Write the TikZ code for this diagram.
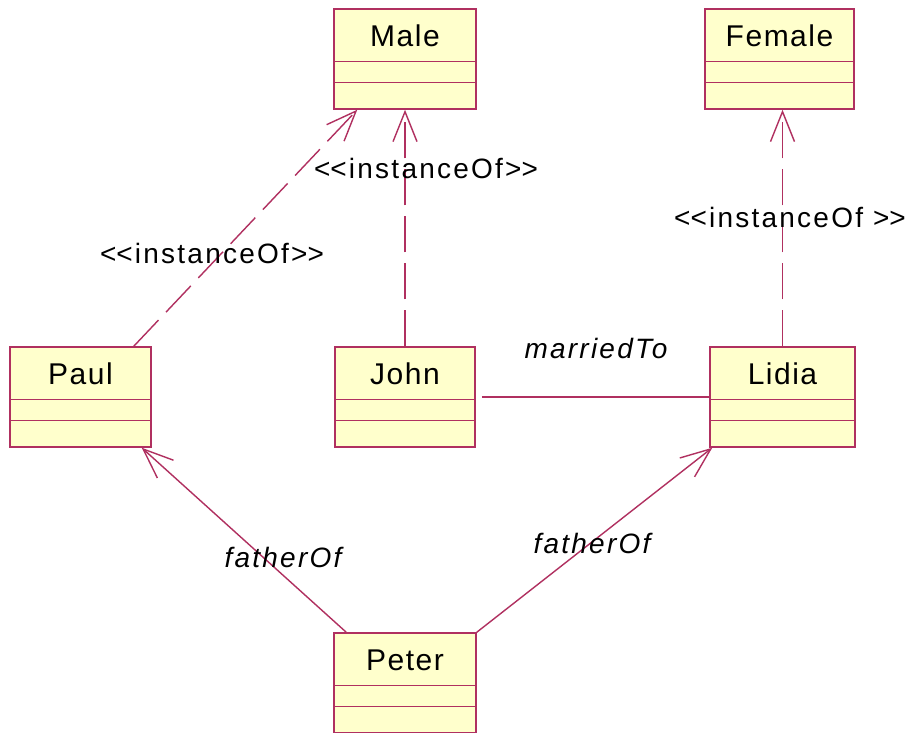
\documentclass[tikz,border=0pt]{standalone}
\usepackage{fontspec}
\setmainfont{Liberation Sans}
\newfontfamily\boxfont[LetterSpace=5]{Liberation Sans}
\newfontfamily\labfont[LetterSpace=8]{Liberation Sans}
\usetikzlibrary{arrows.meta}
\definecolor{umlline}{RGB}{176,48,96}
\definecolor{umlfill}{RGB}{255,255,204}
\tikzset{
  umlbox/.style={draw=umlline,fill=umlfill,line width=1.5pt,inner sep=0pt,minimum height=100pt},
  titletext/.style={inner sep=0pt,font=\boxfont\fontsize{30}{36}\selectfont},
  divider/.style={draw=umlline,line width=1.5pt},
  lab/.style={inner sep=0pt,font=\labfont\fontsize{28}{34}\selectfont},
  itlab/.style={inner sep=0pt,font=\labfont\itshape\fontsize{28}{34}\selectfont},
  tip/.style={-{Straight Barb[length=30pt,width=24pt,line width=1.4pt]}},
  inst/.style={draw=umlline,line width=1.4pt,dash pattern=on 36pt off 11pt,tip},
  assoc/.style={draw=umlline,line width=1.4pt},
  navassoc/.style={draw=umlline,line width=1.4pt,tip}
}
\newcommand{\umlcls}[5]{% name, center x, top y, width, title
  \node[umlbox,minimum width=#4pt] (#1) at (#2,#3+50) {};
  \node[titletext] (#1T) at (#2,#3+27) {#5};
  \draw[divider] ([yshift=-53pt]#1.north west) -- ([yshift=-53pt]#1.north east);
  \draw[divider] ([yshift=-74pt]#1.north west) -- ([yshift=-74pt]#1.north east);
}
\begin{document}
\begin{tikzpicture}[x=1pt,y=-1pt]
\useasboundingbox (0,0) rectangle (918,732);
\fill[white] (0,0) rectangle (918,732);

\umlcls{male}{405}{9}{142}{Male}
\umlcls{female}{779.5}{9}{149}{Female}
\umlcls{paul}{80.5}{347}{141}{Paul}
\umlcls{john}{405}{347}{140}{John}
\umlcls{lidia}{782.5}{347}{145}{Lidia}
\umlcls{peter}{405}{633}{142}{Peter}

% connectors
\draw[inst] ([xshift=-18pt]paul.north east) -- ([xshift=24pt]male.south west);
\draw[inst] (john.north) -- (john.north |- male.south);
\draw[inst] (lidia.north) -- (lidia.north |- female.south);
\draw[assoc] ([xshift=6pt]john.east) -- (lidia.west);
\draw[navassoc] ([xshift=13pt]peter.north west) -- ([xshift=-10pt]paul.south east);
\draw[navassoc] (peter.north east) -- ([xshift=3pt]lidia.south west);

% labels
\node[lab] (l1) at (212,253) {<\kern0pt<instanceOf>\kern0pt>};
\node[lab] (l2) at (426,168) {<\kern0pt<instanceOf>\kern0pt>};
\node[lab] (l3) at (790,217) {<\kern0pt<instanceOf >\kern0pt>};
\node[itlab] (m1) at (596,348) {marriedTo};
\node[itlab] (f1) at (283,557) {fatherOf};
\node[itlab] (f2) at (592,543) {fatherOf};
\end{tikzpicture}
\end{document}
